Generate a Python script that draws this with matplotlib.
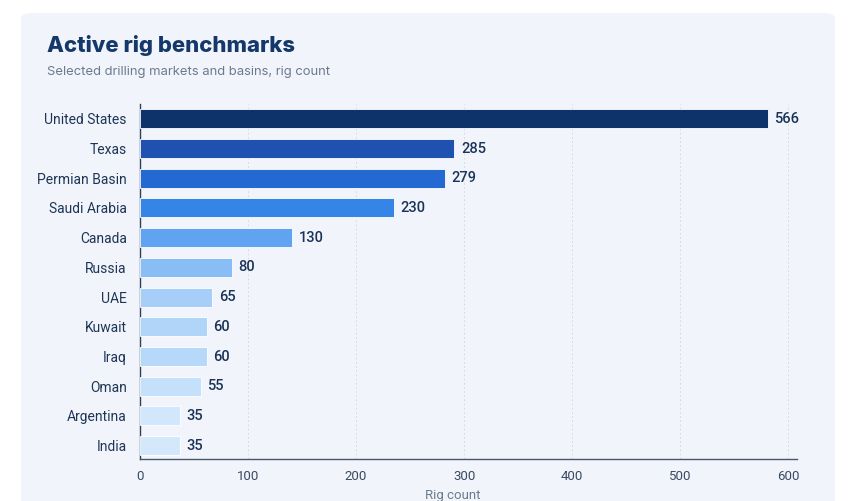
import matplotlib.pyplot as plt
from matplotlib.patches import FancyBboxPatch

# chart data (bar lengths as drawn, labels as printed)
markets = ["United States", "Texas", "Permian Basin", "Saudi Arabia", "Canada", "Russia",
           "UAE", "Kuwait", "Iraq", "Oman", "Argentina", "India"]
rig_counts = [581, 291, 282, 235, 141, 85, 67, 62, 62, 56, 37, 37]
count_labels = ["566", "285", "279", "230", "130", "80", "65", "60", "60", "55", "35", "35"]
bar_colors = ["#0e336b", "#1f52b0", "#2468d2", "#3585e6", "#5fa3f1", "#89bdf5",
              "#a6cef8", "#b1d5f9", "#b6d8f9", "#c5e0fa", "#d1e7fb", "#d3e8fb"]
x_ticks = [0, 100, 200, 300, 400, 500, 600]

plt.rcParams['font.family'] = ['Roboto', 'DejaVu Sans']

fig = plt.figure(figsize=(8.56, 5.01), dpi=100)
fig.patch.set_facecolor("white")

# light card behind everything
W, H = 856, 501
card = FancyBboxPatch((21 / W, -0.05), (835 - 21) / W, (501 - 13) / H + 0.05,
                      boxstyle="round,pad=0,rounding_size=0.012",
                      transform=fig.transFigure, facecolor="#f1f5fb",
                      edgecolor="none", zorder=-10)
fig.patches.append(card)

fig.text(47 / W, 1 - 45 / H, "Active rig benchmarks", fontsize=15.9, fontweight="heavy",
         color="#14386a", va="center", ha="left", family=["Inter", "DejaVu Sans"])
fig.text(47 / W, 1 - 72 / H, "Selected drilling markets and basins, rig count", fontsize=9.4,
         color="#6d7a8e", va="center", ha="left", family=["Inter", "DejaVu Sans"])

ax = fig.add_axes([140 / W, 1 - 459 / H, (797 - 140) / W, (459 - 104) / H])
ax.set_zorder(5)
ax.set_facecolor("none")

y = range(len(markets))
ax.barh(y, rig_counts, height=0.64, color=bar_colors, edgecolor="white", linewidth=0.6, zorder=3)
for yi, v, lab in zip(y, rig_counts, count_labels):
    ax.text(v + 6, yi, lab, va="center", ha="left", fontsize=10.5, fontweight="medium",
            color="#1b3358", zorder=4)

ax.set_yticks(list(y))
ax.set_yticklabels(markets, fontsize=10, color="#1e3556")
ax.set_ylim(11.45, -0.5)
ax.set_xlim(0, 608)
ax.set_xticks(x_ticks)
ax.set_xticklabels([str(t) for t in x_ticks], fontsize=9.5, color="#3b4a60")
ax.tick_params(axis="both", length=0)
ax.tick_params(axis="x", pad=8)
ax.tick_params(axis="y", pad=9.5)

ax.grid(axis="x", linestyle=(0, (2, 3)), color="#d0d5dc", linewidth=0.6, zorder=0)
ax.set_axisbelow(True)
for s in ["top", "right"]:
    ax.spines[s].set_visible(False)
ax.spines["left"].set_color("#2f3e55")
ax.spines["bottom"].set_color("#4a566a")
ax.spines["left"].set_linewidth(1.0)
ax.spines["bottom"].set_linewidth(1.0)

fig.text(453 / W, 1 - 496 / H, "Rig count", fontsize=9.5, color="#6d7a8e",
         ha="center", va="center")

fig.savefig("out.png", dpi=100)
